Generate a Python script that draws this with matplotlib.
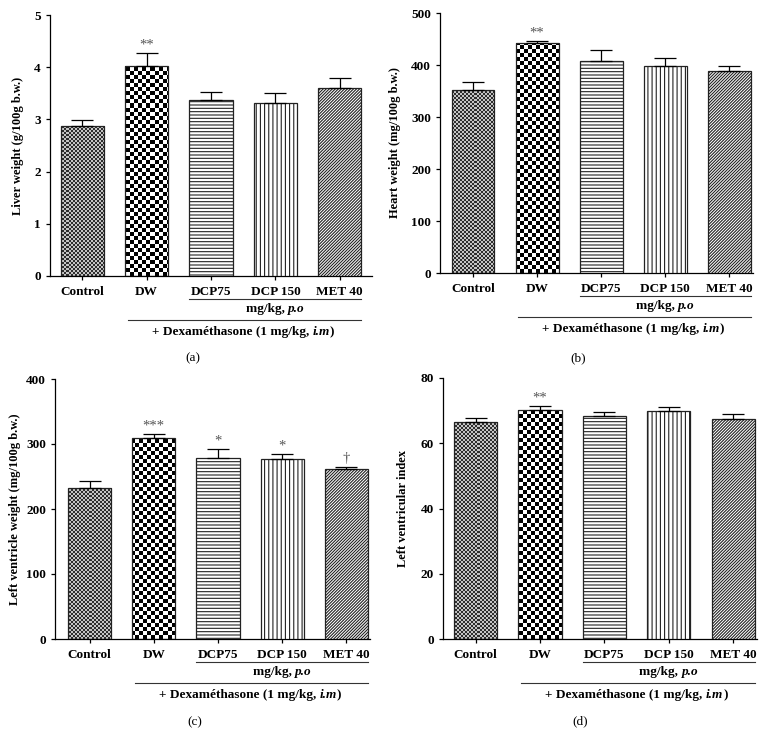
import matplotlib
matplotlib.use('Agg')
import matplotlib.pyplot as plt
import numpy as np
from matplotlib import transforms
from matplotlib.colors import ListedColormap
from matplotlib.offsetbox import TextArea, HPacker, AnnotationBbox

# ---- data ----
categories = ['Control', 'DW', 'DCP75', 'DCP 150', 'MET 40']

liver = [2.87, 4.03, 3.37, 3.32, 3.60]
liver_err = [0.12, 0.25, 0.15, 0.19, 0.20]
liver_sig = ['', '**', '', '', '']

heart = [351, 442, 407, 398, 389]
heart_err = [17, 5, 21, 16, 9]
heart_sig = ['', '**', '', '', '']

lv_weight = [232, 309, 278, 277, 261]
lv_weight_err = [10.5, 6, 15, 7.5, 4]
lv_weight_sig = ['', '***', '*', '*', '\u2020']

lv_index = [66.5, 70.2, 68.5, 69.9, 67.3]
lv_index_err = [1.1, 1.1, 1.0, 1.2, 1.8]
lv_index_sig = ['', '**', '', '', '']

plt.rcParams['font.family'] = 'serif'
plt.rcParams['font.serif'] = ['Liberation Serif', 'DejaVu Serif']
plt.rcParams['font.weight'] = 'bold'
plt.rcParams['font.size'] = 9.5
plt.rcParams['hatch.linewidth'] = 0.8
plt.rcParams['hatch.color'] = 'black'

W, H = 774, 746
fig = plt.figure(figsize=(W / 100, H / 100), dpi=100)

# panel layout in pixels: left, top, right, bottom
panels = [
    dict(vals=liver, err=liver_err, sig=liver_sig, ymax=5, step=1,
         ylabel='Liver weight (g/100g b.w.)', box=(50, 15, 372, 276),
         xlim=(-0.5, 4.5), lab_x=-0.081, cap='(a)', cap_xy=(193, 358)),
    dict(vals=heart, err=heart_err, sig=heart_sig, ymax=500, step=100,
         ylabel='Heart weight (mg/100g b.w.)', box=(440, 13, 753, 273),
         xlim=(-0.515, 4.37), lab_x=-0.125, cap='(b)', cap_xy=(578, 358)),
    dict(vals=lv_weight, err=lv_weight_err, sig=lv_weight_sig, ymax=400, step=100,
         ylabel='Left ventricle weight (mg/100g b.w.)', box=(55, 379, 370, 639),
         xlim=(-0.537, 4.366), lab_x=-0.108, cap='(c)', cap_xy=(195, 722)),
    dict(vals=lv_index, err=lv_index_err, sig=lv_index_sig, ymax=80, step=20,
         ylabel='Left ventricular index', box=(443, 378, 757, 639),
         xlim=(-0.505, 4.37), lab_x=-0.108, cap='(d)', cap_xy=(580, 721)),
]

bar_w = 0.67
hatches = [None, None, '-----', '||||', '/' * 11]


def below(ax, dy):
    return transforms.offset_copy(ax.get_xaxis_transform(), fig=fig, x=0, y=-dy, units='dots')


def checker(ax, bar, cell, c1, c2):
    bb = ax.get_window_extent()
    nx = int(bb.width // cell) + 1
    ny = int(bb.height // cell) + 1
    arr = np.indices((ny, nx)).sum(axis=0) % 2
    x0, x1 = ax.get_xlim()
    y0, y1 = ax.get_ylim()
    xe = x0 + (x1 - x0) * nx * cell / bb.width
    ye = y0 + (y1 - y0) * ny * cell / bb.height
    im = ax.imshow(arr, cmap=ListedColormap([c1, c2]), extent=(x0, xe, y0, ye),
                   origin='lower', interpolation='nearest', aspect='auto', zorder=2)
    im.set_clip_path(bar)


def mixed(parts):
    boxes = []
    for s, italic in parts:
        boxes.append(TextArea(s, textprops=dict(weight='bold', style='italic' if italic else 'normal',
                                                fontsize=9.5)))
    return HPacker(children=boxes, align='baseline', pad=0, sep=0)


x = np.arange(len(categories))

for p in panels:
    l, t, r, b = p['box']
    ax = fig.add_axes([l / W, 1 - b / H, (r - l) / W, (b - t) / H])
    ax.set_xlim(*p['xlim'])
    ax.set_ylim(0, p['ymax'])

    bars = ax.bar(x, p['vals'], width=bar_w, color='white', edgecolor='#222222',
                  linewidth=0.9, zorder=3)
    for bar, h in zip(bars, hatches):
        if h:
            bar.set_hatch(h)
    bars[0].set_facecolor('none')
    bars[1].set_facecolor('none')
    checker(ax, bars[0], 2, '#2e2e2e', '#c4c4c4')
    checker(ax, bars[1], 4, 'black', 'white')
    ax.set_xlim(*p['xlim'])
    ax.set_ylim(0, p['ymax'])

    ax.errorbar(x, p['vals'], yerr=[np.zeros(len(x)), p['err']], fmt='none',
                ecolor='black', elinewidth=0.9, capsize=8, capthick=0.9, zorder=4)
    for xi, v, e, s in zip(x, p['vals'], p['err'], p['sig']):
        if s:
            ax.annotate(s, (xi, v + e), xytext=(0, 1), textcoords='offset points',
                        ha='center', va='bottom', fontsize=10.5, color='#555555', fontweight='normal')

    ax.set_yticks(np.arange(0, p['ymax'] + p['step'] / 2, p['step']))
    ax.set_xticks(x, categories)
    ax.tick_params(direction='out', length=3, width=0.9, labelsize=9.5)
    ax.tick_params(axis='x', pad=4)
    for side in ['top', 'right']:
        ax.spines[side].set_visible(False)
    for side in ['left', 'bottom']:
        ax.spines[side].set_linewidth(0.9)

    ax.set_ylabel(p['ylabel'], fontsize=9, fontweight='bold')
    ax.yaxis.set_label_coords(p['lab_x'], 0.5)

    # group brackets under the axis
    ax.plot([2 - bar_w / 2, 4 + bar_w / 2], [0, 0], transform=below(ax, 23),
            clip_on=False, color='#333333', lw=0.8)
    ax.plot([1 - bar_w / 2 + 0.04, 4 + bar_w / 2], [0, 0], transform=below(ax, 44),
            clip_on=False, color='#333333', lw=0.8)
    ab = AnnotationBbox(mixed([('mg/kg, ', False), ('p.o', True)]), (3, 0),
                        xycoords=below(ax, 33), frameon=False, pad=0,
                        box_alignment=(0.5, 0.5), annotation_clip=False)
    ax.add_artist(ab)
    ab = AnnotationBbox(mixed([('+ Dexam\u00e9thasone (1 mg/kg, ', False), ('i.m', True), (')', False)]),
                        (2.5, 0), xycoords=below(ax, 56), frameon=False, pad=0,
                        box_alignment=(0.5, 0.5), annotation_clip=False)
    ax.add_artist(ab)

    cx, cy = p['cap_xy']
    fig.text(cx / W, 1 - cy / H, p['cap'], ha='center', va='center', fontsize=9.5, fontweight='normal')

plt.savefig('out.png', dpi=100)
